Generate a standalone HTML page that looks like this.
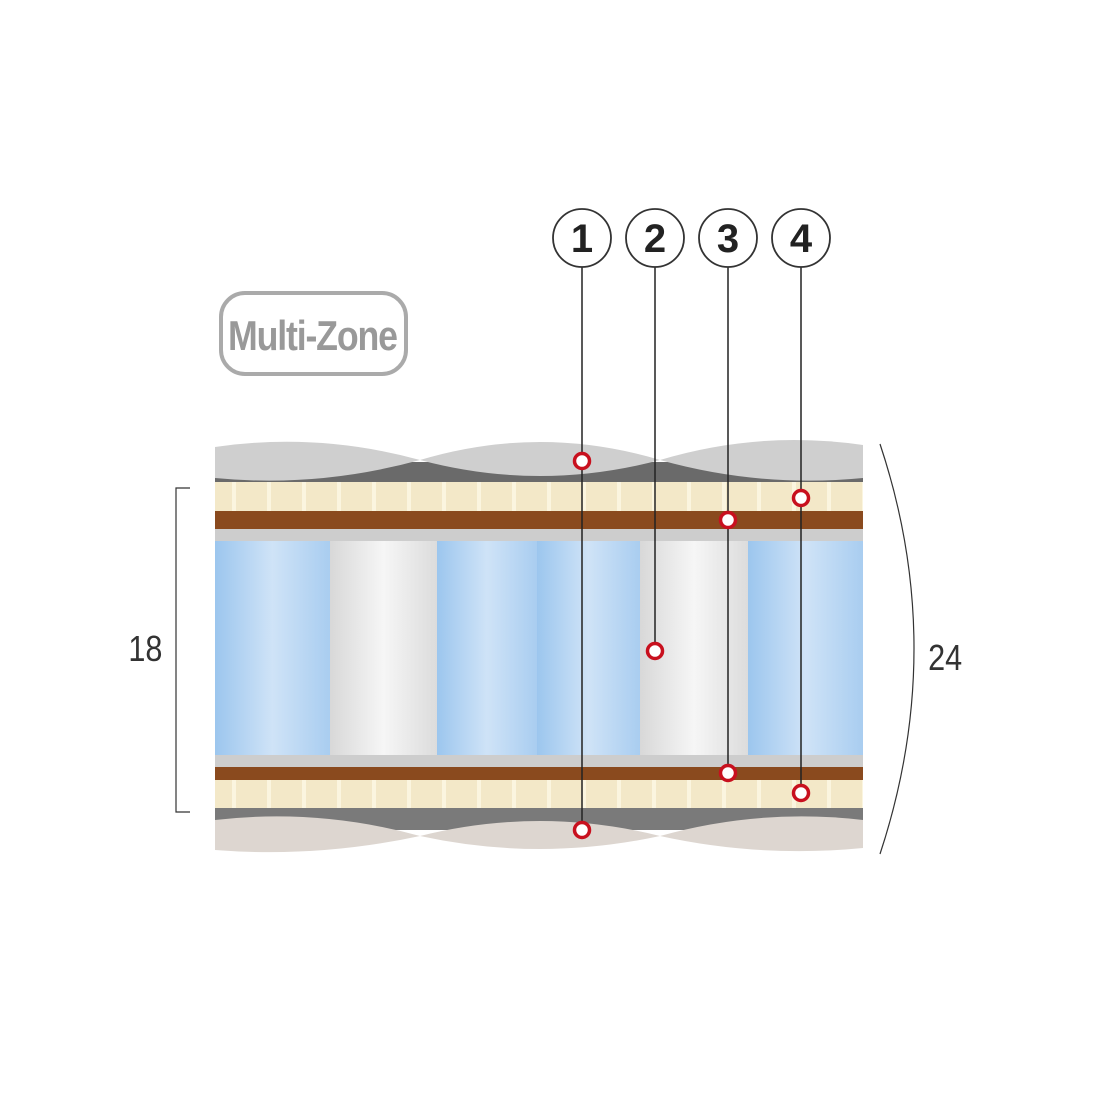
<!DOCTYPE html>
<html><head><style>body{margin:0;background:#fff}svg{display:block}</style></head><body>
<svg width="1100" height="1100" viewBox="0 0 1100 1100" xmlns="http://www.w3.org/2000/svg" font-family="Liberation Sans, sans-serif">
<defs>
<linearGradient id="blue" x1="0" x2="1"><stop offset="0" stop-color="#9cc6ee"/><stop offset="0.5" stop-color="#cfe3f7"/><stop offset="1" stop-color="#a9cdf0"/></linearGradient>
<linearGradient id="white" x1="0" x2="1"><stop offset="0" stop-color="#d8d8d8"/><stop offset="0.5" stop-color="#f6f6f6"/><stop offset="1" stop-color="#dcdcdc"/></linearGradient>
<pattern id="foam" width="35" height="30" patternUnits="userSpaceOnUse" x="215"><rect width="35" height="30" fill="#f3e8c8"/><rect x="17" width="4" height="30" fill="#fbf5df"/></pattern>
</defs>
<!-- top quilt -->
<rect x="215" y="462" width="648" height="22" fill="#6a6a6a"/>
<path d="M215 447 Q318 432 420 460 Q318 488 215 478 Z" fill="#cfcfcf"/>
<path d="M420 460 Q540 424 660 460 Q540 492 420 460 Z" fill="#cfcfcf"/>
<path d="M660 460 Q760 430 863 445 L863 478 Q760 488 660 460 Z" fill="#cfcfcf"/>
<!-- top foam -->
<rect x="215" y="482" width="648" height="29" fill="url(#foam)"/>
<rect x="215" y="511" width="648" height="18" fill="#8a4a1e"/>
<rect x="215" y="529" width="648" height="12" fill="#cdcdcd"/>
<!-- springs -->
<rect x="215" y="541" width="115" height="214" fill="url(#blue)"/>
<rect x="330" y="541" width="107" height="214" fill="url(#white)"/>
<rect x="437" y="541" width="100" height="214" fill="url(#blue)"/>
<rect x="537" y="541" width="103" height="214" fill="url(#blue)"/>
<rect x="640" y="541" width="108" height="214" fill="url(#white)"/>
<rect x="748" y="541" width="115" height="214" fill="url(#blue)"/>
<!-- bottom -->
<rect x="215" y="755" width="648" height="12" fill="#cdcdcd"/>
<rect x="215" y="767" width="648" height="13" fill="#8a4a1e"/>
<rect x="215" y="780" width="648" height="28" fill="url(#foam)"/>
<rect x="215" y="808" width="648" height="22" fill="#7a7a7a"/>
<path d="M215 820 Q318 808 420 836 Q318 858 215 850 Z" fill="#ddd6d0"/>
<path d="M420 836 Q540 806 660 836 Q540 862 420 836 Z" fill="#ddd6d0"/>
<path d="M660 836 Q760 808 863 820 L863 848 Q760 858 660 836 Z" fill="#ddd6d0"/>
<!-- brackets -->
<path d="M190 488 H176 V812 H190" fill="none" stroke="#333" stroke-width="1.2"/>
<text x="146" y="661" font-size="36" text-anchor="middle" fill="#333" transform="scale(0.85 1) translate(25 0)">18</text>
<path d="M880 444 Q948 648 880 854" fill="none" stroke="#333" stroke-width="1.2"/>
<text x="1112" y="670" font-size="36" text-anchor="middle" fill="#333" transform="scale(0.85 1)">24</text>
<!-- Multi-Zone -->
<rect x="221" y="293" width="185" height="81" rx="24" fill="#fff" stroke="#aaa" stroke-width="4"/>
<text x="313" y="350" font-size="42" font-weight="bold" text-anchor="middle" fill="#999" transform="translate(313 0) scale(0.85 1) translate(-313 0)" textLength="200">Multi-Zone</text>
<!-- callouts -->
<g stroke="#222" stroke-width="1.5">
<line x1="582" y1="267" x2="582" y2="830"/>
<line x1="655" y1="267" x2="655" y2="651"/>
<line x1="728" y1="267" x2="728" y2="773"/>
<line x1="801" y1="267" x2="801" y2="793"/>
</g>
<g fill="#fff" stroke="#333" stroke-width="1.8">
<circle cx="582" cy="238" r="29"/><circle cx="655" cy="238" r="29"/><circle cx="728" cy="238" r="29"/><circle cx="801" cy="238" r="29"/>
</g>
<g font-size="40" font-weight="bold" text-anchor="middle" fill="#222">
<text x="582" y="252">1</text><text x="655" y="252">2</text><text x="728" y="252">3</text><text x="801" y="252">4</text>
</g>
<g fill="#fff" stroke="#c8101e" stroke-width="3.5">
<circle cx="582" cy="461" r="7.5"/><circle cx="801" cy="498" r="7.5"/><circle cx="728" cy="520" r="7.5"/>
<circle cx="655" cy="651" r="7.5"/><circle cx="728" cy="773" r="7.5"/><circle cx="801" cy="793" r="7.5"/><circle cx="582" cy="830" r="7.5"/>
</g>
</svg>
</body></html>
